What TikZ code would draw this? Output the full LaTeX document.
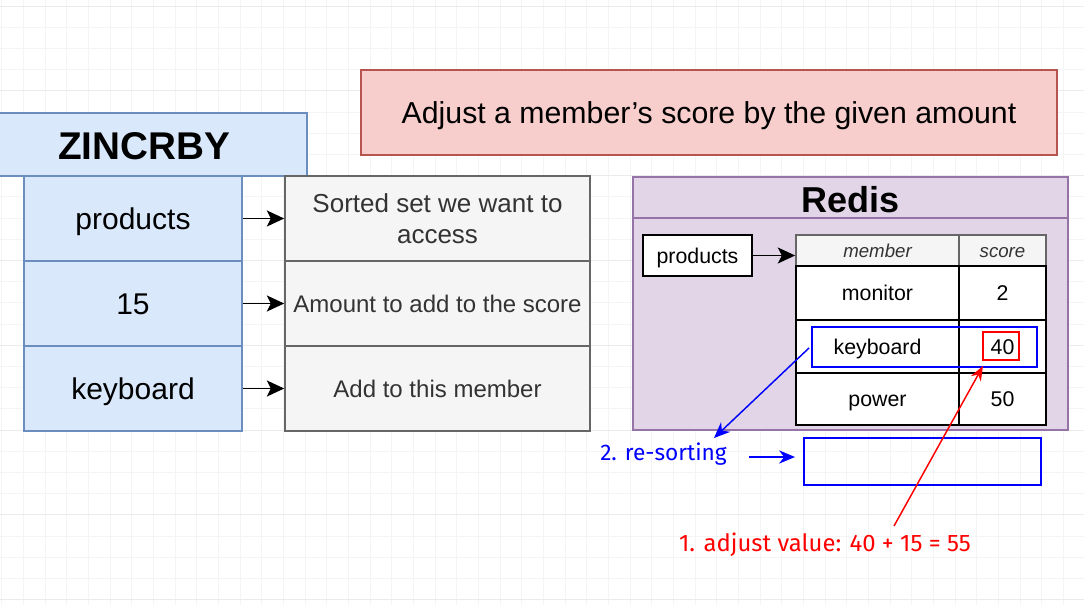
\documentclass[tikz,border=0pt]{standalone}
\usepackage{fontspec}
\setmainfont{Liberation Sans}
\newfontfamily\annotfont{Fira Sans}
\usetikzlibrary{arrows.meta}
\definecolor{gridc}{HTML}{F4F4F4}
\definecolor{gridm}{HTML}{EBEBEB}
\definecolor{bluefill}{HTML}{DAE8FC}
\definecolor{blueline}{HTML}{6C8EBF}
\definecolor{grayfill}{HTML}{F5F5F5}
\definecolor{grayline}{HTML}{666666}
\definecolor{redfill}{HTML}{F8CECC}
\definecolor{redline}{HTML}{B85450}
\definecolor{purfill}{HTML}{E1D5E7}
\definecolor{purline}{HTML}{9673A6}
\definecolor{txtgray}{HTML}{333333}
\tikzset{
  base/.style={rectangle, inner sep=0pt, line width=1.2pt},
  bluebox/.style={base, draw=blueline, fill=bluefill, text height=16.2pt, text depth=0pt, font=\fontsize{22.5}{27}\selectfont},
  graybox/.style={base, draw=grayline, fill=grayfill, text=txtgray, align=center, font=\fontsize{18}{23}\selectfont},
  cellbox/.style={base, draw=black, fill=white, line width=1.3pt, text height=11.5pt, text depth=0pt, font=\fontsize{16}{19}\selectfont},
  headbox/.style={base, draw=grayline, fill=grayfill, line width=1.3pt, text=txtgray, text height=10pt, text depth=0pt, font=\fontsize{14}{17}\selectfont\itshape},
  hlblue/.style={base, draw=blue, line width=1.6pt},
  hlred/.style={base, draw=red, line width=1.4pt},
  blk/.style={-{Stealth[length=13pt,width=12pt,inset=3pt]}, line width=1.3pt},
  blu/.style={-{Stealth[length=12pt,width=10pt]}, draw=blue, line width=1.1pt},
  rd/.style={-{Stealth[length=11pt,width=8.5pt]}, draw=red, line width=1.1pt},
  annot/.style={inner sep=0pt, font=\annotfont\fontsize{17}{20}\selectfont}
}
\begin{document}
\begin{tikzpicture}[x=0.75pt,y=-0.75pt]
\useasboundingbox (0,0) rectangle (1084,605);
\fill[white] (0,0) rectangle (1084,605);
% background grid
\foreach \i in {0,...,50} \draw[gridc, line width=0.5pt] ({1.6+21.67*\i},0) -- ({1.6+21.67*\i},605);
\foreach \j in {0,...,28} \draw[gridc, line width=0.5pt] (0,{6+21.2*\j}) -- (1084,{6+21.2*\j});
\foreach \j in {0,...,7} \draw[gridm, line width=0.6pt] (0,{6+84.8*\j}) -- (1084,{6+84.8*\j});

% left block
\node[base, draw=blueline, fill=bluefill, minimum width=231.75pt, minimum height=47.25pt] (cmd) at (152.5,144.5) {};
\node[font=\fontsize{29}{34}\selectfont\bfseries, inner sep=0pt, text height=20.9pt, text depth=0pt] (cmdtext) at (144,145.5) {ZINCRBY};
\node[bluebox, minimum width=163.5pt, minimum height=63.75pt] (a1) at (133,218.5) {products};
\node[bluebox, minimum width=163.5pt, minimum height=63.75pt] (a2) at (133,303.5) {15};
\node[bluebox, minimum width=163.5pt, minimum height=63.75pt] (a3) at (133,388.5) {keyboard};

\node[graybox, minimum width=228.75pt, minimum height=63.75pt, font=\fontsize{19.5}{23}\selectfont] (d1) at (437.5,218.5) {Sorted set we want to\\access};
\node[graybox, minimum width=228.75pt, minimum height=63.75pt] (d2) at (437.5,303.5) {Amount to add to the score};
\node[graybox, minimum width=228.75pt, minimum height=63.75pt] (d3) at (437.5,388.5) {Add to this member};

\draw[blk] (a1.east) -- (d1.west);
\draw[blk] (a2.east) -- (d2.west);
\draw[blk] (a3.east) -- (d3.west);

% top description
\node[base, draw=redline, fill=redfill, minimum width=522pt, minimum height=63.75pt, text height=16.3pt, text depth=0pt, font=\fontsize{22.7}{27}\selectfont] (desc) at (709,112.5) {Adjust a member's score by the given amount};

% Redis block
\node[base, draw=purline, fill=purfill, minimum width=326.25pt, minimum height=189.75pt] (redis) at (850.5,303.5) {};
\draw[purline, line width=1.2pt] (633,218) -- (1068,218);
\node[font=\fontsize{27}{32}\selectfont\bfseries, inner sep=0pt, text height=19.4pt, text depth=0pt] (redistitle) at (850.5,200) {Redis};

\node[cellbox, minimum width=81.75pt, minimum height=30.75pt] (key) at (697.5,255.5) {products};

\node[headbox, minimum width=122.25pt, minimum height=23.25pt] (hmem) at (877.5,250.5) {member};
\node[headbox, minimum width=65.25pt, minimum height=23.25pt] (hsc) at (1002.5,250.5) {score};
\node[cellbox, minimum width=122.25pt, minimum height=40.5pt] (m1) at (877.5,293) {monitor};
\node[cellbox, minimum width=65.25pt, minimum height=40.5pt] (s1) at (1002.5,293) {2};
\node[cellbox, minimum width=122.25pt, minimum height=39.75pt] (m2) at (877.5,346.5) {keyboard};
\node[cellbox, minimum width=65.25pt, minimum height=39.75pt] (s2) at (1002.5,346.5) {40};
\node[cellbox, minimum width=122.25pt, minimum height=39pt] (m3) at (877.5,399) {power};
\node[cellbox, minimum width=65.25pt, minimum height=39pt] (s3) at (1002.5,399) {50};

\draw[blk] (key.east) -- (hmem.west |- key.east);

% highlights
\node[hlblue, minimum width=168.75pt, minimum height=30pt] (kbhl) at (924.5,347) {};
\node[hlred, minimum width=27pt, minimum height=21pt] (sc40) at (1001,346) {};
\node[hlblue, minimum width=177.75pt, minimum height=35.25pt] (slot) at (922.5,461.5) {};

% annotations
\node[annot, text=blue, anchor=west] (resort) at (600,454) {2. re-sorting};
\node[annot, text=red, anchor=center, font=\annotfont\fontsize{17.9}{21}\selectfont] (adjust) at (825,545) {1. adjust value: 40 + 15 = 55};

\coordinate (bstart) at (809,348);
\coordinate (btip) at (714,438);
\coordinate (hstart) at (749,457);
\coordinate (htip) at (795,457);
\coordinate (rstart) at (894,526);
\coordinate (rtip) at (983,366);

\draw[blu] (bstart) -- (btip);
\draw[blu] (hstart) -- (htip);
\draw[rd] (rstart) -- (rtip);
\end{tikzpicture}
\end{document}
